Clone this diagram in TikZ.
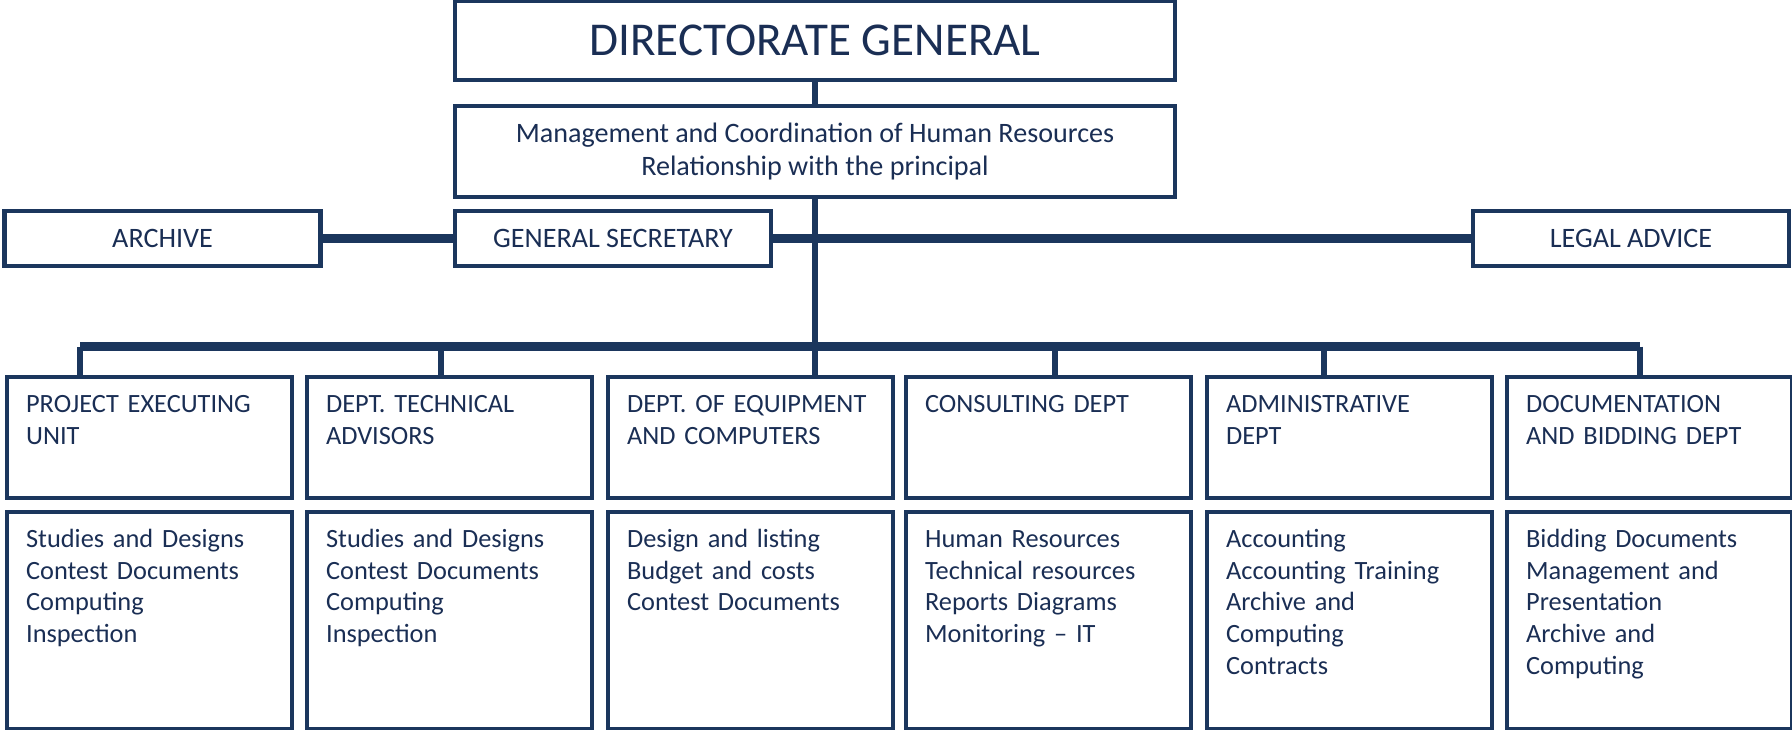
\documentclass[tikz,border=0pt]{standalone}
\usepackage{fontspec}
\setmainfont{Carlito}
\definecolor{navy}{RGB}{27,54,93}
\definecolor{inknavy}{RGB}{26,46,84}

\begin{document}
\begin{tikzpicture}[x=0.1mm, y=-0.1mm,
  box/.style={draw=navy, line width=1.2pt, text=inknavy, inner sep=0pt},
  topbox/.style={box, minimum width=72mm, minimum height=7.9mm},
  sidebox/.style={box, minimum width=31.6mm, minimum height=5.5mm, font=\fontsize{8}{9.6}\selectfont},
  deptbox/.style={box, anchor=north west, text width=24.7mm, inner xsep=1.9mm, align=left,
    text height=3.5mm, text depth=8.6mm, font=\fontsize{7.5}{9.07}\selectfont},
  taskbox/.style={deptbox, text depth=18.2mm},
  link/.style={draw=navy, line width=2.6pt},
  drop/.style={draw=navy, line width=1.9pt}]
\useasboundingbox (0,0) rectangle (1792,729);
\node[topbox, font=\fontsize{13.4}{16}\selectfont] (dg) at (815,40.5) {DIRECTORATE GENERAL};
\node[topbox, minimum height=9.1mm, align=center, font=\fontsize{8}{9.64}\selectfont] (mgmt) at (815,151.5) {Management and Coordination of Human Resources\\Relationship with the principal};
\node[sidebox] (arch) at (162.5,238.5) {ARCHIVE};
\node[sidebox] (gsec) at (613,238.5) {GENERAL SECRETARY};
\node[sidebox] (legal) at (1631,238.5) {LEGAL ADVICE};
\node[deptbox] (dep1) at (5,375) {PROJECT EXECUTING\\UNIT};
\node[deptbox] (dep2) at (305,375) {DEPT. TECHNICAL\\ADVISORS};
\node[deptbox] (dep3) at (606,375) {DEPT. OF EQUIPMENT\\AND COMPUTERS};
\node[deptbox] (dep4) at (904,375) {CONSULTING DEPT};
\node[deptbox] (dep5) at (1205,375) {ADMINISTRATIVE\\DEPT};
\node[deptbox] (dep6) at (1505,375) {DOCUMENTATION\\AND BIDDING DEPT};
\node[taskbox] (tsk1) at (5,510) {Studies and Designs\\Contest Documents\\Computing\\Inspection};
\node[taskbox] (tsk2) at (305,510) {Studies and Designs\\Contest Documents\\Computing\\Inspection};
\node[taskbox] (tsk3) at (606,510) {Design and listing\\Budget and costs\\Contest Documents};
\node[taskbox] (tsk4) at (904,510) {Human Resources\\Technical resources\\Reports Diagrams\\Monitoring – IT};
\node[taskbox] (tsk5) at (1205,510) {Accounting\\Accounting Training\\Archive and\\Computing\\Contracts};
\node[taskbox] (tsk6) at (1505,510) {Bidding Documents\\Management and\\Presentation\\Archive and\\Computing};
% trunk and side links
\draw[drop] (dg) -- (mgmt);
\draw[drop] (mgmt.south) -- (mgmt.south |- dep3.north);
\draw[link] (arch) -- (gsec);
\draw[link] (gsec) -- (legal);
% bus to the departments
\coordinate (bus1) at (80,346.5);
\coordinate (bus2) at (441,346.5);
\coordinate (bus4) at (1055,346.5);
\coordinate (bus5) at (1324,346.5);
\coordinate (bus6) at (1640,346.5);
\draw[link] (bus1) -- (bus6);
\draw[drop] (bus1) -- (bus1 |- dep1.north);
\draw[drop] (bus2) -- (bus2 |- dep2.north);
\draw[drop] (bus4) -- (bus4 |- dep4.north);
\draw[drop] (bus5) -- (bus5 |- dep5.north);
\draw[drop] (bus6) -- (bus6 |- dep6.north);
\end{tikzpicture}
\end{document}
